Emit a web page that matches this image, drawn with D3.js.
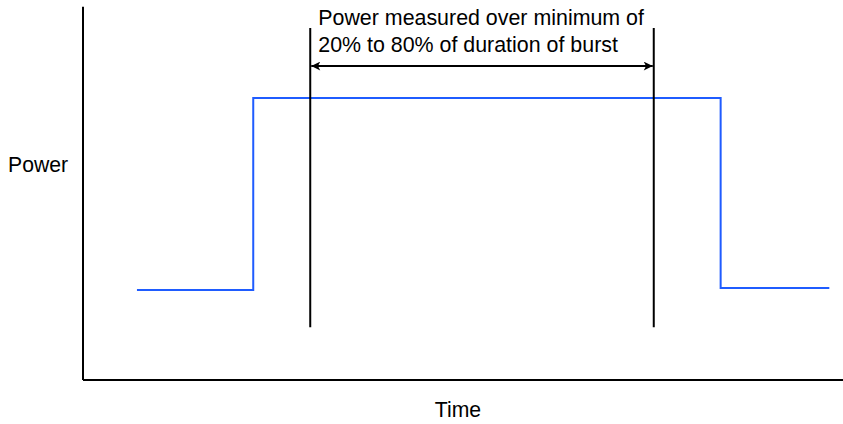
<!DOCTYPE html>
<html>
<head>
<meta charset="utf-8">
<script src="https://cdn.jsdelivr.net/npm/d3@7"></script>
<style>
  body { margin: 0; background: #fff; }
  svg { display: block; font-family: "Liberation Sans", Arial, sans-serif; }
</style>
</head>
<body>
<svg class="chart"></svg>
<script>
const width = 843;
const height = 424;

// step trace (time, power) in arbitrary units
const burstTime = [7.1, 22.4, 22.4, 83.9, 83.9, 98.2];
const burstPower = [23.7, 23.7, 74.2, 74.2, 24.2, 24.2];

// 20% / 80% markers
const markerTime = [29.9, 75.1];
const markerPower = [13.9, 92.6];
const arrowPower = 82.6;

const annotation = ['Power measured over minimum of', '20% to 80% of duration of burst'];
const xLabel = 'Time';
const yLabel = 'Power';

const svg = d3.select('.chart')
  .attr('width', width)
  .attr('height', height);

const xScale = d3.scaleLinear().domain([0, 100]).range([83, 843]);
const yScale = d3.scaleLinear().domain([0, 100]).range([380, 0]);

svg.append('defs').selectAll('marker')
  .data(['start', 'end'])
  .enter().append('marker')
  .attr('id', d => 'arr-' + d)
  .attr('viewBox', '0 0 10 10')
  .attr('refX', 10).attr('refY', 5)
  .attr('markerWidth', 13).attr('markerHeight', 9)
  .attr('markerUnits', 'userSpaceOnUse')
  .attr('orient', 'auto-start-reverse')
  .append('path')
  .attr('d', 'M0,0 L10,5 L0,10 L2.5,5 Z')
  .attr('fill', '#000');

// axes (plain lines)
svg.append('line')
  .attr('x1', xScale(0)).attr('x2', xScale(0))
  .attr('y1', yScale(98.2)).attr('y2', yScale(0))
  .attr('stroke', '#000').attr('stroke-width', 2);
svg.append('line')
  .attr('x1', xScale(0)).attr('x2', xScale(100))
  .attr('y1', yScale(0)).attr('y2', yScale(0))
  .attr('stroke', '#000').attr('stroke-width', 2);

// blue burst
const pts = burstTime.map((t, i) => [t, burstPower[i]]);
const line = d3.line().x(d => xScale(d[0])).y(d => yScale(d[1]));
svg.append('path')
  .datum(pts)
  .attr('d', line)
  .attr('fill', 'none')
  .attr('stroke', '#1f5cff')
  .attr('stroke-width', 2);

// markers
svg.selectAll('.marker')
  .data(markerTime)
  .enter().append('line')
  .attr('class', 'marker')
  .attr('x1', d => xScale(d)).attr('x2', d => xScale(d))
  .attr('y1', yScale(markerPower[1])).attr('y2', yScale(markerPower[0]))
  .attr('stroke', '#000').attr('stroke-width', 2);

// double arrow
svg.append('line')
  .attr('x1', xScale(markerTime[0]) + 1).attr('x2', xScale(markerTime[1]) - 1)
  .attr('y1', yScale(arrowPower)).attr('y2', yScale(arrowPower))
  .attr('stroke', '#000').attr('stroke-width', 2)
  .attr('marker-start', 'url(#arr-start)')
  .attr('marker-end', 'url(#arr-end)');

// annotation text
svg.selectAll('.note')
  .data(annotation)
  .enter().append('text')
  .attr('class', 'note')
  .attr('x', xScale(markerTime[0]) + 8)
  .attr('y', (d, i) => 25 + i * 27)
  .attr('font-size', 21.4)
  .attr('fill', '#000')
  .text(d => d);

svg.append('text')
  .attr('x', 8).attr('y', 172)
  .attr('font-size', 21.2)
  .text(yLabel);

svg.append('text')
  .attr('x', 458).attr('y', 417)
  .attr('text-anchor', 'middle')
  .attr('font-size', 21.2)
  .text(xLabel);
</script>
</body>
</html>
